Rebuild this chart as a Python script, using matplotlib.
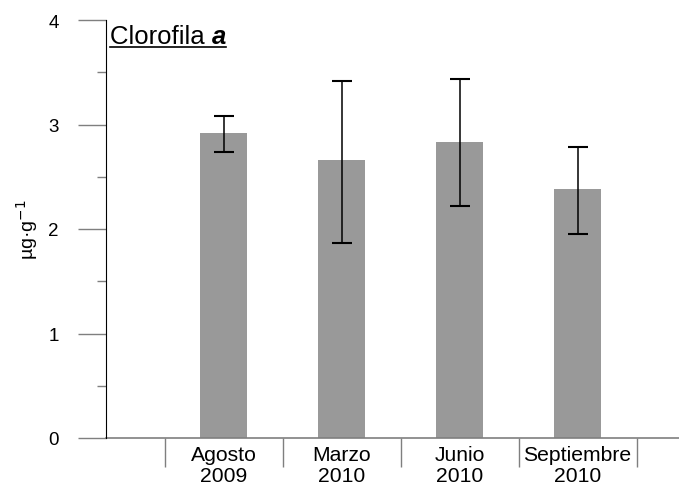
import numpy as np
import matplotlib
matplotlib.use("Agg")
from matplotlib import pyplot as plt
from matplotlib.lines import Line2D

plt.rcParams['font.family'] = ['Liberation Sans', 'DejaVu Sans']

# ------------------------------------------------
# Data
# ------------------------------------------------
categories = ["Agosto\n2009", "Marzo\n2010", "Junio\n2010", "Septiembre\n2010"]
means = [2.92, 2.66, 2.83, 2.38]
err_low = [0.18, 0.79, 0.61, 0.43]
err_high = [0.16, 0.76, 0.61, 0.40]
y_ticks = [0, 1, 2, 3, 4]

BAR_COLOR = "#999999"
TICK_GRAY = "#7f7f7f"

fig = plt.figure(figsize=(6.79, 4.89), dpi=100)
ax = fig.add_axes([106 / 679, 50 / 489, 573 / 679, 418 / 489])

x = np.arange(len(categories))
ax.bar(x, means, width=0.4, color=BAR_COLOR, zorder=2)
ax.errorbar(x, means, yerr=[err_low, err_high], fmt="none", ecolor="black",
            elinewidth=1.1, capsize=7, capthick=1.5, zorder=3)

ax.set_xlim(-1.0, 3.86)
ax.set_ylim(0, 4)

# y axis: major + minor ticks pointing out
ax.set_yticks(y_ticks)
ax.set_yticks(np.arange(0.5, 4, 1.0), minor=True)
ax.tick_params(axis="y", which="major", direction="out", length=20,
               width=1, color=TICK_GRAY, pad=14, labelsize=13.5)
ax.tick_params(axis="y", which="minor", direction="out", length=6.5,
               width=1, color=TICK_GRAY)

# x axis: dividers as major ticks, labels on minor ticks
ax.set_xticks(np.arange(-0.5, 4.0, 1.0))
ax.set_xticklabels([])
ax.set_xticks(x, minor=True)
ax.set_xticklabels(categories, minor=True, fontsize=15.2, linespacing=1.12)
ax.tick_params(axis="x", which="major", direction="out", length=21,
               width=1, color=TICK_GRAY)
ax.tick_params(axis="x", which="minor", length=0, pad=5)

for side in ["top", "right"]:
    ax.spines[side].set_visible(False)
ax.spines["left"].set_color("black")
ax.spines["left"].set_zorder(4)
ax.spines["bottom"].set_color(TICK_GRAY)
ax.spines["bottom"].set_linewidth(1.2)

fig.text(27 / 679, 1 - 230 / 489, "µg·g$^{-1}$", rotation=90,
         ha="center", va="center", fontsize=14)

# title with underline
t1 = fig.text(110 / 679, 1 - 44 / 489, "Clorofila ", fontsize=18.5,
              ha="left", va="baseline")
fig.canvas.draw()
r = fig.canvas.get_renderer()
bb1 = t1.get_window_extent(r)
t2 = fig.text(bb1.x1 / fig.bbox.width, 1 - 44 / 489, "a",
              fontsize=18.5, fontweight="bold", fontstyle="italic",
              ha="left", va="baseline")
fig.canvas.draw()
bb2 = t2.get_window_extent(r)
uy = 1 - 47.5 / 489
fig.add_artist(Line2D([bb1.x0 / fig.bbox.width, bb2.x1 / fig.bbox.width],
                      [uy, uy], color="black", lw=1.2))

fig.savefig("out.png", dpi=100)
